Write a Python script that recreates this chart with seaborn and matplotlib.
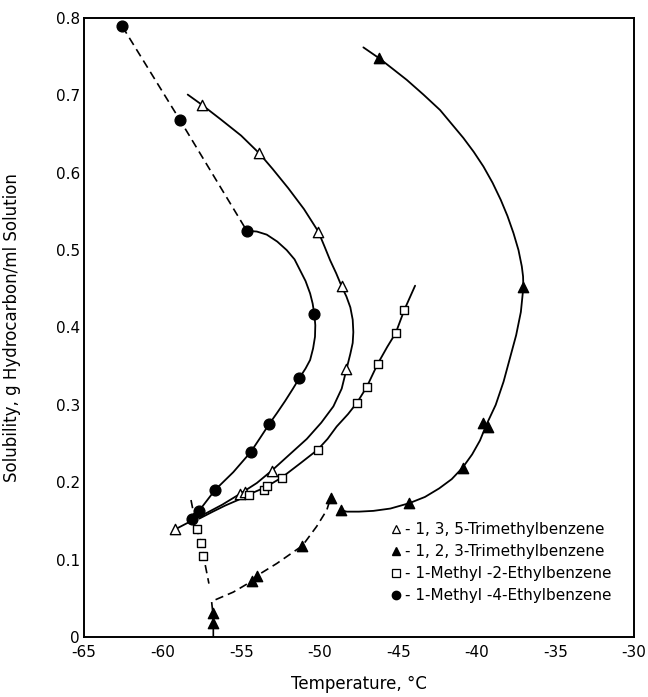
import matplotlib
matplotlib.use("Agg")
import matplotlib.pyplot as plt
from matplotlib.lines import Line2D
import seaborn as sns
import pandas as pd

# ---------------- data ----------------
# 1,3,5-Trimethylbenzene (open triangles)
tmb135_x = [-59.21, -55.07, -54.73, -53.05, -48.34, -48.60, -50.09, -53.84, -57.51]
tmb135_y = [0.139, 0.185, 0.188, 0.215, 0.346, 0.453, 0.524, 0.625, 0.688]
tmb135_curve_x = [-59.21, -57.5, -56.2, -55.07, -54.0, -53.05, -51.8, -50.82, -49.9, -49.13,
                  -48.6, -48.32, -48.05, -47.9, -47.86, -47.9, -48.05, -48.3, -48.6, -48.95,
                  -49.34, -49.7, -50.09, -51.0, -52.0, -53.0, -53.84, -55.0, -56.3, -57.51,
                  -58.4]
tmb135_curve_y = [0.139, 0.157, 0.171, 0.185, 0.199, 0.215, 0.238, 0.256, 0.277, 0.298,
                  0.321, 0.344, 0.366, 0.380, 0.394, 0.410, 0.426, 0.440, 0.453, 0.470,
                  0.487, 0.505, 0.524, 0.553, 0.580, 0.605, 0.625, 0.648, 0.669, 0.688,
                  0.701]

# 1,2,3-Trimethylbenzene (filled triangles)
tmb123_x = [-56.77, -56.77, -54.33, -54.01, -51.10, -49.30, -48.66, -44.29, -40.90,
            -39.58, -39.26, -37.04, -46.22]
tmb123_y = [0.018, 0.031, 0.072, 0.079, 0.118, 0.180, 0.164, 0.173, 0.219,
            0.276, 0.272, 0.452, 0.748]
tmb123_dash_x = [-56.77, -56.77, -56.80, -56.88, -55.5, -54.33, -54.01, -52.73, -51.10,
                 -50.19, -49.55, -49.30]
tmb123_dash_y = [0.0, 0.018, 0.031, 0.046, 0.058, 0.072, 0.079, 0.095, 0.118,
                 0.143, 0.164, 0.180]
tmb123_curve_x = [-48.66, -48.28, -47.5, -46.58, -45.5, -44.29, -43.3, -42.4, -41.6, -40.90,
                  -40.3, -39.8, -39.4, -38.8, -38.3, -37.9, -37.5, -37.2, -37.04, -37.06,
                  -37.14, -37.35, -37.67, -38.05, -38.48, -39.0, -39.58, -40.2, -40.86,
                  -41.6, -42.34, -43.4, -44.46, -45.4, -46.22, -47.22]
tmb123_curve_y = [0.164, 0.162, 0.162, 0.163, 0.166, 0.173, 0.181, 0.192, 0.204, 0.219,
                  0.236, 0.254, 0.274, 0.300, 0.330, 0.360, 0.390, 0.420, 0.452, 0.466,
                  0.479, 0.500, 0.522, 0.544, 0.565, 0.587, 0.608, 0.627, 0.645,
                  0.663, 0.681, 0.701, 0.720, 0.735, 0.748, 0.762]

# 1-Methyl-2-Ethylbenzene (open squares)
me2eb_x = [-57.83, -57.55, -57.40, -54.50, -53.56, -53.37, -52.40, -50.13, -47.62,
           -47.01, -46.31, -45.16, -44.61]
me2eb_y = [0.140, 0.122, 0.105, 0.184, 0.190, 0.195, 0.205, 0.242, 0.303,
           0.323, 0.353, 0.393, 0.423]
me2eb_dash_x = [-58.19, -57.83, -57.55, -57.40, -57.05]
me2eb_dash_y = [0.177, 0.140, 0.122, 0.105, 0.069]
me2eb_curve_x = [-57.66, -56.8, -56.0, -55.2, -54.54, -53.5, -52.42, -51.2, -50.13, -49.5,
                 -48.92, -48.2, -47.62, -47.01, -46.31, -45.7, -45.16, -44.61, -43.93]
me2eb_curve_y = [0.153, 0.162, 0.170, 0.177, 0.184, 0.193, 0.206, 0.225, 0.242, 0.256,
                 0.272, 0.288, 0.303, 0.323, 0.353, 0.375, 0.393, 0.423, 0.454]

# 1-Methyl-4-Ethylbenzene (filled circles)
me4eb_x = [-62.56, -58.89, -54.64, -50.34, -51.30, -53.22, -54.39, -56.66, -57.68, -58.11]
me4eb_y = [0.789, 0.668, 0.525, 0.417, 0.335, 0.275, 0.239, 0.190, 0.163, 0.153]
me4eb_dash_x = [-62.56, -58.89, -54.64]
me4eb_dash_y = [0.789, 0.668, 0.525]
me4eb_curve_x = [-54.64, -54.0, -53.37, -52.7, -52.1, -51.6, -51.25, -50.9, -50.61, -50.45,
                 -50.34, -50.28, -50.3, -50.42, -50.61, -50.9, -51.25, -51.7, -52.2, -52.7,
                 -53.22, -53.8, -54.39, -55.5, -56.66, -57.68, -58.11]
me4eb_curve_y = [0.525, 0.524, 0.520, 0.511, 0.500, 0.488, 0.474, 0.460, 0.444, 0.431,
                 0.417, 0.403, 0.388, 0.373, 0.358, 0.347, 0.336, 0.321, 0.305, 0.290,
                 0.275, 0.257, 0.239, 0.213, 0.190, 0.163, 0.153]

series_labels = ["- 1, 3, 5-Trimethylbenzene", "- 1, 2, 3-Trimethylbenzene",
                 "- 1-Methyl -2-Ethylbenzene", "- 1-Methyl -4-Ethylbenzene"]
x_ticks = [-65, -60, -55, -50, -45, -40, -35, -30]
x_tick_labels = ["-65", "-60", "-55", "-50", "-45", "-40", "-35", "-30"]
y_ticks = [0, 0.1, 0.2, 0.3, 0.4, 0.5, 0.6, 0.7, 0.8]
y_tick_labels = ["0", "0.1", "0.2", "0.3", "0.4", "0.5", "0.6", "0.7", "0.8"]

# ---------------- style ----------------
sns.set_style("white")
plt.rcParams["font.family"] = ["Liberation Sans Narrow", "DejaVu Sans"]
for key in ("text.color", "axes.labelcolor", "xtick.color", "ytick.color"):
    plt.rcParams[key] = "black"

fig = plt.figure(figsize=(6.48, 6.97), dpi=100)
ax = fig.add_axes([0.1296, 0.0861, 0.8488, 0.8881])

LW = 1.3
DASH = (0, (5, 3))


def curve(xs, ys, dashed=False):
    df = pd.DataFrame({"x": xs, "y": ys})
    kw = dict(linestyle=DASH) if dashed else {}
    sns.lineplot(data=df, x="x", y="y", sort=False, estimator=None, color="black",
                 linewidth=LW if not dashed else 1.2, ax=ax, legend=False, **kw)


def points(xs, ys, marker, filled, s):
    df = pd.DataFrame({"x": xs, "y": ys})
    sns.scatterplot(data=df, x="x", y="y", marker=marker, s=s,
                    color="black" if filled else "white", edgecolor="black",
                    linewidth=1.0, ax=ax, legend=False, zorder=3)


curve(tmb135_curve_x, tmb135_curve_y)
curve(tmb123_dash_x, tmb123_dash_y, dashed=True)
curve(tmb123_curve_x, tmb123_curve_y)
curve(me2eb_dash_x, me2eb_dash_y, dashed=True)
curve(me2eb_curve_x, me2eb_curve_y)
curve(me4eb_dash_x, me4eb_dash_y, dashed=True)
curve(me4eb_curve_x, me4eb_curve_y)

points(tmb135_x, tmb135_y, "^", False, 55)
points(tmb123_x, tmb123_y, "^", True, 55)
points(me2eb_x, me2eb_y, "s", False, 40)
points(me4eb_x, me4eb_y, "o", True, 60)

ax.set_xlim(-65, -30)
ax.set_ylim(0, 0.8)
ax.set_xticks(x_ticks)
ax.set_xticklabels(x_tick_labels)
ax.set_yticks(y_ticks)
ax.set_yticklabels(y_tick_labels)
ax.tick_params(axis="both", direction="in", length=7, width=1.2, labelsize=11,
               top=False, right=False, colors="black")
ax.tick_params(axis="x", pad=6)
ax.tick_params(axis="y", pad=3)
for sp in ax.spines.values():
    sp.set_visible(True)
    sp.set_linewidth(1.4)
    sp.set_color("black")

ax.set_xlabel("Temperature, °C", fontsize=12)
ax.set_ylabel("Solubility, g Hydrocarbon/ml Solution", fontsize=12)
ax.xaxis.set_label_coords(0.5, -0.062)
ax.yaxis.set_label_coords(-0.115, 0.5)

handles = [
    Line2D([], [], linestyle="none", marker="^", markersize=6, markerfacecolor="white",
           markeredgecolor="black", markeredgewidth=0.9),
    Line2D([], [], linestyle="none", marker="^", markersize=6, markerfacecolor="black",
           markeredgecolor="black"),
    Line2D([], [], linestyle="none", marker="s", markersize=5.5, markerfacecolor="white",
           markeredgecolor="black", markeredgewidth=0.9),
    Line2D([], [], linestyle="none", marker="o", markersize=6, markerfacecolor="black",
           markeredgecolor="black"),
]
ax.legend(handles, series_labels, loc="upper left", bbox_to_anchor=(0.545, 0.195),
          frameon=False, fontsize=11, handlelength=0.8, handletextpad=0.2,
          labelspacing=0.45, borderaxespad=0)

fig.savefig("out.png", dpi=100)
